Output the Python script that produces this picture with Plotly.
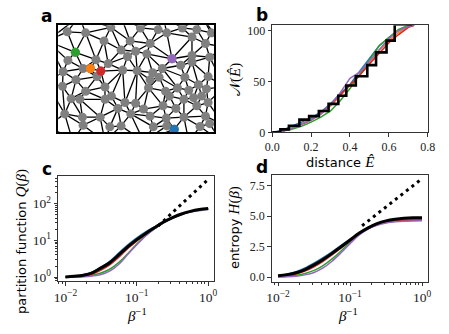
import plotly.graph_objects as go

# ---------------- panel a: network nodes (image coordinates) ----------------
NODE_X = [183, 240, 297, 318, 378, 410, 440, 465, 492, 540, 585, 570, 612, 630,
          208, 185, 350, 395, 430, 370, 508, 570, 570, 625, 272,
          255, 287, 232, 275, 310, 355, 400, 448, 478, 440, 468, 548, 535, 620, 210, 170,
          168, 240, 300, 320, 435, 488, 525, 590, 615, 560,
          195, 222, 300, 340, 362, 395, 420, 480, 500, 520, 575, 600, 620, 585, 545,
          230, 285, 380, 440, 490, 545, 612, 175,
          232, 315, 350, 450, 492, 515, 625, 595,
          120, 120, 125, 220, 350, 480, 600, 670, 670, 670, 200, 300, 420, 560, 660]
NODE_Y = [92, 95, 120, 78, 120, 80, 128, 85, 95, 80, 85, 108, 128, 95,
          155, 180, 148, 152, 160, 168, 175, 165, 185, 170, 178,
          205, 213, 205, 230, 190, 210, 212, 218, 205, 240, 232, 232, 195, 230, 240, 215,
          260, 275, 262, 290, 265, 275, 265, 255, 268, 272,
          298, 300, 300, 328, 310, 312, 330, 320, 290, 328, 295, 290, 310, 320, 300,
          355, 355, 345, 352, 358, 355, 352, 345,
          380, 385, 382, 385, 382, 392, 375, 384,
          120, 250, 380, 45, 45, 45, 45, 140, 260, 380, 430, 430, 430, 430, 430]
HI_X = [208, 255, 287, 508, 515]
HI_Y = [155, 205, 213, 175, 392]
HI_COLORS = ["#2ca02c", "#ff7f0e", "#d62728", "#9467bd", "#1f77b4"]

# ---------------- panel b: cumulative counts ----------------
STEP_X = [0, 0.042, 0.086, 0.14, 0.19, 0.24, 0.29, 0.34, 0.381, 0.43, 0.489, 0.534, 0.588, 0.63, 0.72]
STEP_Y = [0, 3, 6.5, 12.5, 16, 21, 28, 36, 46, 55, 66, 78.5, 90, 106, 106]
CUM_X = [0, 0.05, 0.1, 0.15, 0.2, 0.25, 0.3, 0.35, 0.4, 0.45, 0.5, 0.55, 0.6, 0.65, 0.7, 0.73]
CUM = {
    "#1f77b4": [0, 2, 6, 10, 14, 20, 28, 38, 47, 60, 72, 85, 93, 100, 104, 105],
    "#ff7f0e": [0, 1, 4, 8, 12, 18, 26, 36, 46, 56, 68, 80, 90, 98, 104, 105],
    "#2ca02c": [0, 1, 3, 6, 10, 15, 21, 31, 43, 57, 70, 85, 93, 101, 105, 105],
    "#d62728": [0, 1, 4, 8, 12, 19, 27, 37, 46, 56, 67, 78, 88, 96, 103, 105],
    "#9467bd": [0, 1, 4, 8, 12, 18, 27, 39, 53, 59, 70, 82, 92, 100, 104, 105],
}

# ---------------- panels c, d ----------------
BETA_INV = [0.01, 0.0133, 0.0178, 0.0237, 0.0316, 0.0422, 0.0562, 0.075, 0.1,
            0.133, 0.178, 0.237, 0.316, 0.422, 0.562, 0.75, 1.0]
Q_BLACK = [1.0, 1.05, 1.12, 1.30, 1.78, 2.51, 4.07, 6.76, 10.5, 15.5, 22.4, 31.6, 41.7, 52.5, 61.7, 69.2, 74.1]
Q_COLORS = {
    "#1f77b4": [1.0, 1.05, 1.15, 1.35, 1.86, 2.75, 4.57, 7.59, 11.7, 17.0, 23.4, 31.6, 41.7, 52.5, 61.7, 69.2, 74.1],
    "#ff7f0e": [1.0, 1.04, 1.10, 1.25, 1.66, 2.34, 3.80, 6.31, 10.0, 15.1, 22.0, 31.3, 41.5, 52.0, 61.0, 68.5, 73.0],
    "#2ca02c": [1.0, 1.0, 1.03, 1.12, 1.29, 1.66, 2.51, 4.37, 7.94, 13.5, 20.9, 30.2, 40.7, 51.3, 60.3, 67.6, 72.0],
    "#d62728": [1.0, 1.02, 1.07, 1.20, 1.55, 2.19, 3.47, 6.03, 9.55, 14.8, 21.9, 31.0, 41.0, 51.5, 60.5, 67.8, 72.5],
    "#9467bd": [1.0, 1.0, 1.02, 1.07, 1.17, 1.48, 2.24, 4.17, 7.59, 13.2, 20.9, 30.2, 39.8, 50.1, 58.9, 64.6, 69.2],
}
Q_DOT_X = [0.2, 1.0]
Q_DOT_Y = [25, 460]

H_BLACK = [0.10, 0.20, 0.36, 0.62, 1.0, 1.45, 1.95, 2.5, 3.05, 3.6, 4.05, 4.4, 4.62, 4.75, 4.83, 4.87, 4.88]
H_COLORS = {
    "#1f77b4": [0.10, 0.24, 0.45, 0.75, 1.15, 1.6, 2.08, 2.6, 3.1, 3.62, 4.05, 4.4, 4.62, 4.75, 4.83, 4.87, 4.88],
    "#ff7f0e": [0.08, 0.18, 0.33, 0.58, 0.95, 1.4, 1.9, 2.45, 3.02, 3.58, 4.02, 4.35, 4.55, 4.66, 4.72, 4.75, 4.76],
    "#2ca02c": [0.02, 0.06, 0.15, 0.30, 0.55, 0.95, 1.5, 2.15, 2.9, 3.5, 4.0, 4.3, 4.5, 4.6, 4.65, 4.67, 4.68],
    "#d62728": [0.05, 0.12, 0.25, 0.50, 0.85, 1.3, 1.82, 2.4, 3.0, 3.55, 3.98, 4.3, 4.5, 4.6, 4.65, 4.67, 4.68],
    "#9467bd": [0.0, 0.02, 0.07, 0.18, 0.38, 0.75, 1.3, 2.0, 2.75, 3.45, 3.95, 4.25, 4.45, 4.55, 4.6, 4.62, 4.63],
}
H_DOT_X = [0.147, 1.0]
H_DOT_Y = [4.22, 8.1]

# tick labels
B_XTICKS = [0, 0.2, 0.4, 0.6, 0.8]
B_YTICKS = [0, 50, 100]
LOGX_TICKS = [0.01, 0.1, 1]
LOGX_TEXT = ["10<sup>−2</sup>", "10<sup>−1</sup>", "10<sup>0</sup>"]
LOGY_TICKS = [1, 10, 100]
LOGY_TEXT = ["10<sup>0</sup>", "10<sup>1</sup>", "10<sup>2</sup>"]
H_YTICKS = [0, 2.5, 5, 7.5]


# ---------- Delaunay triangulation (Bowyer-Watson) for the network edges ----------
def circum(a, b, c):
    ax, ay = a; bx, by = b; cx, cy = c
    d = 2 * (ax * (by - cy) + bx * (cy - ay) + cx * (ay - by))
    ux = ((ax*ax + ay*ay) * (by - cy) + (bx*bx + by*by) * (cy - ay) + (cx*cx + cy*cy) * (ay - by)) / d
    uy = ((ax*ax + ay*ay) * (cx - bx) + (bx*bx + by*by) * (ax - cx) + (cx*cx + cy*cy) * (bx - ax)) / d
    return ux, uy, (ax - ux) ** 2 + (ay - uy) ** 2


def delaunay(pts):
    n = len(pts)
    P = list(pts) + [(-1e4, -1e4), (1e4, -1e4), (0, 1e4)]
    tris = [(n, n + 1, n + 2)]
    for i in range(n):
        p = P[i]
        bad = []
        for t in tris:
            ux, uy, r2 = circum(P[t[0]], P[t[1]], P[t[2]])
            if (p[0] - ux) ** 2 + (p[1] - uy) ** 2 < r2:
                bad.append(t)
        cnt = {}
        for t in bad:
            for e in ((t[0], t[1]), (t[1], t[2]), (t[2], t[0])):
                k = tuple(sorted(e))
                cnt[k] = cnt.get(k, 0) + 1
        tris = [t for t in tris if t not in bad]
        for e, c in cnt.items():
            if c == 1:
                tris.append((e[0], e[1], i))
    edges = set()
    for t in tris:
        if max(t) < n:
            for e in ((t[0], t[1]), (t[1], t[2]), (t[2], t[0])):
                edges.add(tuple(sorted(e)))
    return edges


pts = list(zip(NODE_X, NODE_Y))
ex, ey = [], []
for i, j in sorted(delaunay(pts)):
    ex += [NODE_X[i], NODE_X[j], None]
    ey += [NODE_Y[i], NODE_Y[j], None]

fig = go.Figure()
fig.add_trace(go.Scatter(x=ex, y=ey, mode="lines", line=dict(color="black", width=1.3),
                         xaxis="x", yaxis="y", hoverinfo="skip"))
fig.add_trace(go.Scatter(x=NODE_X, y=NODE_Y, mode="markers",
                         marker=dict(color="#808080", size=9, line=dict(width=0)),
                         xaxis="x", yaxis="y"))
fig.add_trace(go.Scatter(x=HI_X, y=HI_Y, mode="markers",
                         marker=dict(color=HI_COLORS, size=9, line=dict(width=0)),
                         xaxis="x", yaxis="y"))

# panel b
for col, vals in CUM.items():
    fig.add_trace(go.Scatter(x=CUM_X, y=vals, mode="lines", line=dict(color=col, width=1.5),
                             xaxis="x2", yaxis="y2"))
fig.add_trace(go.Scatter(x=STEP_X, y=STEP_Y, mode="lines", line=dict(color="black", width=2.6, shape="hv"),
                         xaxis="x2", yaxis="y2"))

# panel c
for col, vals in Q_COLORS.items():
    fig.add_trace(go.Scatter(x=BETA_INV, y=vals, mode="lines", line=dict(color=col, width=1.5, shape="spline"),
                             xaxis="x3", yaxis="y3"))
fig.add_trace(go.Scatter(x=BETA_INV, y=Q_BLACK, mode="lines", line=dict(color="black", width=3, shape="spline"),
                         xaxis="x3", yaxis="y3"))
fig.add_trace(go.Scatter(x=Q_DOT_X, y=Q_DOT_Y, mode="lines", line=dict(color="black", width=3, dash="3px,4px"),
                         xaxis="x3", yaxis="y3"))

# panel d
for col, vals in H_COLORS.items():
    fig.add_trace(go.Scatter(x=BETA_INV, y=vals, mode="lines", line=dict(color=col, width=1.5, shape="spline"),
                             xaxis="x4", yaxis="y4"))
fig.add_trace(go.Scatter(x=BETA_INV, y=H_BLACK, mode="lines", line=dict(color="black", width=3, shape="spline"),
                         xaxis="x4", yaxis="y4"))
fig.add_trace(go.Scatter(x=H_DOT_X, y=H_DOT_Y, mode="lines", line=dict(color="black", width=3, dash="3px,4px"),
                         xaxis="x4", yaxis="y4"))

W, H = 449, 334
def dx(a, b):
    return [a / W, b / W]
def dy(top, bot):
    return [1 - bot / H, 1 - top / H]

TICKF = dict(family="Liberation Serif", size=12, color="#222")
LOGTICKF = dict(family="Liberation Serif", size=13.5, color="#222")
frame = dict(showline=True, mirror=True, linecolor="#333", linewidth=1, showgrid=False, zeroline=False,
             ticks="outside", ticklen=3.5, tickcolor="#333")
minor_vals = [m * 10 ** e for e in (-3, -2, -1, 0, 1, 2) for m in range(2, 10)]
minor = dict(ticks="outside", ticklen=2, tickcolor="#333", tickmode="array", tickvals=minor_vals, showgrid=False)

fig.update_layout(
    width=W, height=H, margin=dict(l=0, r=0, t=0, b=0),
    paper_bgcolor="white", plot_bgcolor="white", showlegend=False,
    xaxis=dict(domain=dx(52, 213), range=[155, 638], showline=True, mirror=True, linecolor="black",
               linewidth=2, showgrid=False, zeroline=False, showticklabels=False, ticks=""),
    yaxis=dict(domain=dy(24, 134), range=[402, 72], showline=True, mirror=True, linecolor="black",
               linewidth=2, showgrid=False, zeroline=False, showticklabels=False, ticks=""),
    xaxis2=dict(domain=dx(273.3, 434.3), range=[0, 0.8], tickvals=B_XTICKS,
                tickformat=".1f", anchor="y2", tickfont=TICKF, **frame),
    yaxis2=dict(domain=dy(24, 134), range=[0, 105], tickvals=B_YTICKS, anchor="x2", tickfont=TICKF, **frame),
    xaxis3=dict(domain=dx(52, 213), type="log", range=[-2.1, 0.08], tickvals=LOGX_TICKS, ticktext=LOGX_TEXT,
                minor=minor, anchor="y3", tickfont=LOGTICKF, **frame),
    yaxis3=dict(domain=dy(179, 287), type="log", range=[-0.114, 2.75], tickvals=LOGY_TICKS, ticktext=LOGY_TEXT,
                minor=minor, anchor="x3", tickfont=LOGTICKF, **frame),
    xaxis4=dict(domain=dx(272.7, 434), type="log", range=[-2.09, 0.076], tickvals=LOGX_TICKS, ticktext=LOGX_TEXT,
                minor=minor, anchor="y4", tickfont=LOGTICKF, **frame),
    yaxis4=dict(domain=dy(178, 287.3), range=[-0.37, 8.38], tickvals=H_YTICKS, tickformat=".1f",
                anchor="x4", tickfont=TICKF, **frame),
)

SANS = "DejaVu Sans"
SER = "font-family:Liberation Serif;font-size:15px"
ann = [
    dict(x=40, y=14, text="<b>a</b>", size=17),
    dict(x=263, y=13, text="<b>b</b>", size=17),
    dict(x=40, y=172, text="<b>c</b>", size=17),
    dict(x=263, y=170, text="<b>d</b>", size=17),
    dict(x=343, y=164, text=f"distance <span style='{SER}'><i>Ê</i></span>", size=13),
    dict(x=236, y=80, text=f"<span style='{SER}'>𝒩(<i>Ê</i>)</span>", size=14, angle=-90),
    dict(x=14, y=246, text=f"partition function <span style='{SER}'><i>Q</i>(<i>β</i>)</span>", size=13, angle=-90),
    dict(x=235, y=232, text=f"entropy <span style='{SER}'><i>H</i>(<i>β</i>)</span>", size=13, angle=-90),
    dict(x=133, y=322, text=f"<span style='{SER}'><i>β</i><sup>−1</sup></span>", size=15),
    dict(x=352, y=322, text=f"<span style='{SER}'><i>β</i><sup>−1</sup></span>", size=15),
]
for a in ann:
    fig.add_annotation(x=a["x"] / W, y=1 - a["y"] / H, xref="paper", yref="paper", text=a["text"],
                       showarrow=False, xanchor="center", yanchor="middle", textangle=a.get("angle", 0),
                       font=dict(family=SANS, size=a["size"], color="black"))

fig.write_html("out.html", config={"displayModeBar": False},
               post_script="document.body.style.margin='0';document.body.style.padding='0';")
